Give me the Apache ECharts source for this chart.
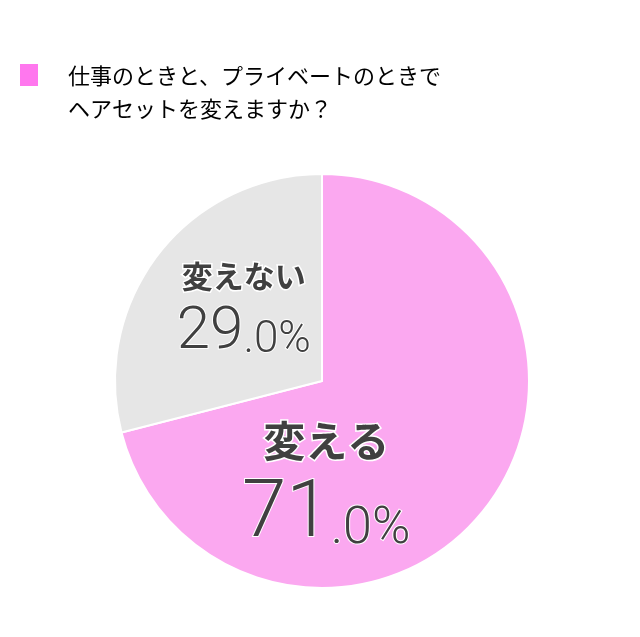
<!DOCTYPE html>
<html><head><meta charset="utf-8">
<script src="https://cdn.jsdelivr.net/npm/echarts@6/dist/echarts.min.js"></script>
<style>html,body{margin:0;padding:0;background:#fff}#c{width:640px;height:637px}</style>
</head><body><div id="c"></div>
<script>
const titleLines = ['仕事のときと、プライベートのときで', 'ヘアセットを変えますか？'];
const categories = ['変える', '変えない'];
const values = [71.0, 29.0];

const sliceColors = ['#FBA8F0', '#E6E6E6'];
const labelShift = [[-80, 35], [6, -10]];
const labelSizes = [{n: 42, nl: 70, v: 80, d: 52}, {n: 31, nl: 54, v: 60, d: 44}];

const chart = echarts.init(document.getElementById('c'));
const numFont = 'Roboto, "Noto Sans", sans-serif';
const cjkFont = '"Noto Sans CJK JP", sans-serif';

const data = categories.map((name, i) => ({
  name, value: values[i],
  itemStyle: {color: sliceColors[i]},
  label: {
    rich: {
      n: {fontSize: labelSizes[i].n, fontWeight: 'bold', fontFamily: cjkFont, color: '#404040', lineHeight: labelSizes[i].nl, textBorderColor: '#fff', textBorderWidth: 3},
      v: {fontSize: labelSizes[i].v, fontWeight: 300, fontFamily: numFont, color: '#404040', lineHeight: labelSizes[i].v, verticalAlign: 'bottom', textBorderColor: '#fff', textBorderWidth: 2},
      d: {fontSize: labelSizes[i].d, fontWeight: 300, fontFamily: numFont, color: '#404040', lineHeight: labelSizes[i].v, verticalAlign: 'bottom', textBorderColor: '#fff', textBorderWidth: 2}
    }
  }
}));

chart.setOption({
  animation: false,
  title: {
    text: titleLines.join('\n'),
    left: 63, top: 54,
    textStyle: {fontFamily: cjkFont, fontSize: 22, fontWeight: 'normal', color: '#000', lineHeight: 33}
  },
  graphic: [{type: 'rect', left: 20, top: 64, shape: {width: 18, height: 22}, style: {fill: '#FF77EE'}}],
  series: [{
    type: 'pie',
    center: [322, 381],
    radius: [0, 207],
    startAngle: 90,
    clockwise: true,
    itemStyle: {borderColor: '#fff', borderWidth: 2},
    label: {
      show: true, position: 'inside',
      formatter: p => {
        const s = p.value.toFixed(1).split('.');
        return '{n|' + p.name + '}\n{v|' + s[0] + '}{d|.' + s[1] + '%}';
      }
    },
    labelLayout: p => ({dx: labelShift[p.dataIndex][0], dy: labelShift[p.dataIndex][1]}),
    labelLine: {show: false},
    emphasis: {disabled: true},
    data
  }]
});
</script></body></html>
